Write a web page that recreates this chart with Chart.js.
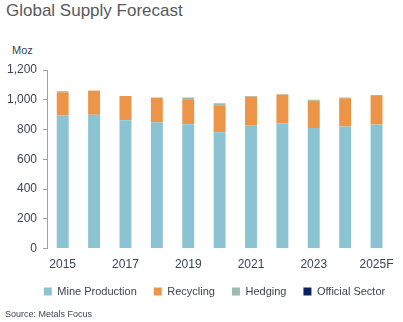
<!DOCTYPE html>
<html>
<head>
<meta charset="utf-8">
<script src="https://cdn.jsdelivr.net/npm/chart.js@4"></script>
<style>
  body { margin: 0; background: #fff; font-family: "Liberation Sans", Arial, sans-serif; }
  #wrap { position: relative; width: 403px; height: 322px; overflow: hidden; }
  #title { position: absolute; left: 6px; top: 1px; font-size: 17px; color: #555a60; }
  #unit { position: absolute; left: 12px; top: 44px; font-size: 11px; color: #3b4450; }
  #source { position: absolute; left: 5px; top: 309px; font-size: 9px; color: #3b4450; }
  #chartBox { position: absolute; left: 0; top: 0; width: 403px; height: 322px; }
</style>
</head>
<body>
<div id="wrap">
  <div id="title">Global Supply Forecast</div>
  <div id="unit">Moz</div>
  <div id="chartBox"><canvas id="supplyChart"></canvas></div>
  <div id="source">Source: Metals Focus</div>
</div>
<script>
// values in Moz
const years = ['2015', '2016', '2017', '2018', '2019', '2020', '2021', '2022', '2023', '2024', '2025F'];
const mineProduction = [895, 900, 863, 849, 836, 782, 829, 840, 811, 820, 834];
const recycling = [156, 160, 163, 163, 162, 181, 192, 195, 183, 190, 192];
const hedging = [7, 2, 0, 4, 18, 13, 4, 2, 6, 5, 6];
const officialSector = [0, 0, 0, 0, 0, 0, 0, 0, 0, 0, 0];
const yTicks = [0, 200, 400, 600, 800, 1000, 1200];

const textColor = '#3b4450';
const axisColor = '#a3a3a3';

function barSet(label, data, color) {
    return {
        label: label,
        data: data,
        backgroundColor: color,
        borderWidth: 0,
        categoryPercentage: 1,
        barPercentage: 0.38
    };
}

// nudge the legend so it sits where the original one does
const legendNudge = {
    id: 'legendNudge',
    afterLayout(chart) {
        const lg = chart.legend;
        if (!lg) return;
        lg.left += 18; lg.right += 18;
        lg.top -= 12; lg.bottom -= 12;
    }
};

new Chart(document.getElementById('supplyChart'), {
    type: 'bar',
    data: {
        labels: years,
        datasets: [
            barSet('Mine Production', mineProduction, '#8cc3d3'),
            barSet('Recycling', recycling, '#ec9549'),
            barSet('Hedging', hedging, '#9dbbb0'),
            barSet('Official Sector', officialSector, '#0b2260')
        ]
    },
    plugins: [legendNudge],
    options: {
        responsive: true,
        maintainAspectRatio: false,
        animation: false,
        layout: { padding: { top: 70, left: 0, right: 10, bottom: 3 } },
        plugins: {
            legend: {
                position: 'bottom',
                labels: {
                    boxWidth: 8,
                    boxHeight: 8,
                    padding: 17,
                    color: textColor,
                    font: { family: 'Liberation Sans', size: 11 }
                }
            },
            tooltip: { enabled: false }
        },
        scales: {
            x: {
                stacked: true,
                grid: { display: false, drawTicks: false },
                border: { display: false },
                ticks: {
                    autoSkip: false,
                    maxRotation: 0,
                    padding: 9,
                    color: textColor,
                    font: { family: 'Liberation Sans', size: 12 },
                    callback: function(value, index) {
                        return index % 2 === 0 ? this.getLabelForValue(value) : '';
                    }
                }
            },
            y: {
                stacked: true,
                min: 0,
                max: 1200,
                afterBuildTicks: function(axis) {
                    axis.ticks = yTicks.map(v => ({ value: v }));
                },
                afterFit: function(axis) {
                    axis.width = 47;
                },
                grid: {
                    drawOnChartArea: false,
                    drawTicks: true,
                    tickLength: 4,
                    color: axisColor
                },
                border: { display: true, color: axisColor, width: 1 },
                ticks: {
                    padding: 6,
                    color: textColor,
                    font: { family: 'Liberation Sans', size: 12 },
                    callback: function(value) {
                        return value.toLocaleString('en-US');
                    }
                }
            }
        }
    }
});
</script>
</body>
</html>
